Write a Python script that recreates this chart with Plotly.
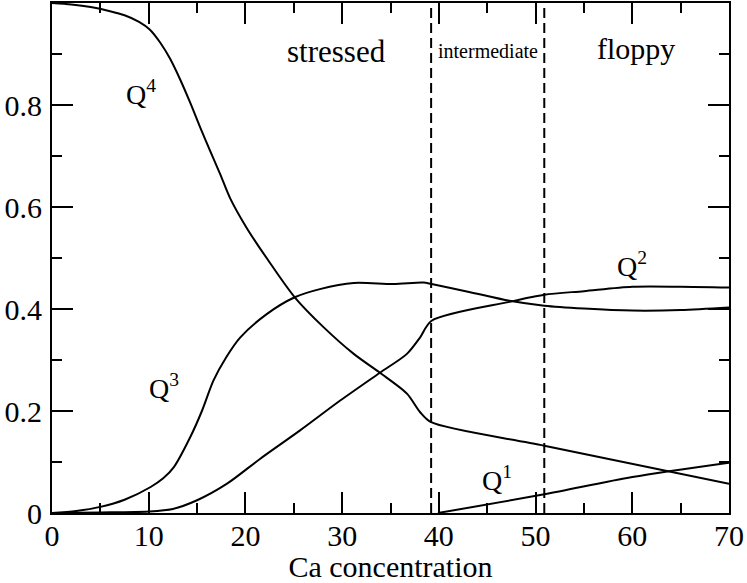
import plotly.graph_objects as go

# ---- data ----
q4_x = [0, 2, 4, 6, 7.5, 9.0, 10.1, 11.2, 12.2, 13.25, 14.3, 15.3, 16.35, 17.4, 18.4,
        20.1, 22.3, 25.1, 28.1, 31.2, 33.9, 36.7, 38.05, 39.2, 50.9, 70]
q4_y = [1.0, 0.997, 0.992, 0.984, 0.976, 0.963, 0.948, 0.922, 0.891, 0.850, 0.804, 0.757,
        0.710, 0.664, 0.618, 0.560, 0.497, 0.423, 0.364, 0.312, 0.275, 0.234, 0.198,
        0.178, 0.132, 0.0575]

q3_x = [0, 2.5, 5.0, 7.5, 10.2, 11.5, 12.6, 14.3, 15.5, 16.7, 18.0, 19.45, 22.2, 25.1,
        27.7, 31.2, 35.3, 38.4, 39.25, 43.0, 47.3, 50.9, 55, 60, 65, 70]
q3_y = [0, 0.004, 0.012, 0.026, 0.051, 0.068, 0.090, 0.149, 0.200, 0.260, 0.305, 0.344,
        0.390, 0.423, 0.439, 0.451, 0.449, 0.452, 0.449, 0.434, 0.416, 0.4065, 0.401,
        0.397, 0.398, 0.403]

q2_x = [0, 5, 10, 12.5, 15.0, 18.1, 21.5, 25.65, 29.8, 33.9, 36.7, 38.05, 39.25, 47.3,
        50.9, 55, 60, 65, 70]
q2_y = [0, 0.001, 0.003, 0.008, 0.025, 0.0575, 0.106, 0.162, 0.2205, 0.275, 0.312, 0.344,
        0.377, 0.414, 0.428, 0.435, 0.4436, 0.4436, 0.442]

q1_x = [39.9, 50.9, 60, 70]
q1_y = [0, 0.0366, 0.0705, 0.0986]

boundaries = [39.2, 50.9]

curve_labels = [('Q<sup>4</sup>', 7.4, 0.825), ('Q<sup>3</sup>', 9.8, 0.248),
                ('Q<sup>2</sup>', 58.2, 0.488), ('Q<sup>1</sup>', 44.3, 0.068)]
region_labels = [('stressed', 29.4, 0.905, 31), ('intermediate', 45.1, 0.905, 20),
                 ('floppy', 60.4, 0.91, 30)]

FONT = 'Liberation Serif'

fig = go.Figure()

for xs, ys in [(q4_x, q4_y), (q3_x, q3_y), (q2_x, q2_y), (q1_x, q1_y)]:
    fig.add_trace(go.Scatter(x=xs, y=ys, mode='lines', showlegend=False, hoverinfo='skip',
                             line=dict(color='black', width=2, shape='spline', smoothing=0.8)))

for xb in boundaries:
    fig.add_shape(type='line', x0=xb, x1=xb, y0=0, y1=1, xref='x', yref='y',
                  line=dict(color='black', width=2, dash='10px,5px'))

for txt, x, y in curve_labels:
    fig.add_annotation(x=x, y=y, text=txt, showarrow=False, xanchor='left',
                       yanchor='middle', font=dict(family=FONT, size=28, color='black'))

for txt, x, y, s in region_labels:
    fig.add_annotation(x=x, y=y, text=txt, showarrow=False, xanchor='center',
                       yanchor='middle', font=dict(family=FONT, size=s, color='black'))

axis_common = dict(showline=True, linecolor='black', linewidth=2, mirror='allticks',
                   ticks='inside', ticklen=21, tickwidth=2, tickcolor='black',
                   showgrid=False, zeroline=False, automargin=False,
                   tickfont=dict(family=FONT, size=30, color='black'))

fig.update_xaxes(range=[0, 70], dtick=10, tick0=0, ticklabelstandoff=-5,
                 minor=dict(dtick=5, ticklen=10, tickwidth=2, tickcolor='black', ticks='inside'),
                 title=dict(text='Ca concentration', font=dict(family=FONT, size=30, color='black'),
                            standoff=0),
                 **axis_common)
fig.update_yaxes(range=[0, 1.0], tickvals=[0, 0.2, 0.4, 0.6, 0.8],
                 ticktext=['0', '0.2', '0.4', '0.6', '0.8'], ticklabelstandoff=2,
                 minor=dict(tickvals=[0.1, 0.3, 0.5, 0.7, 0.9], ticklen=10, tickwidth=2,
                            tickcolor='black', ticks='inside'),
                 **axis_common)

fig.update_layout(width=747, height=583, paper_bgcolor='white', plot_bgcolor='white',
                  margin=dict(l=52, r=18, t=3, b=70),
                  font=dict(family=FONT, color='black'))

# page body has a default 8px margin; drop it so the figure sits at the window corner
fig.write_html('out.html', config={'displayModeBar': False},
               post_script="document.body.style.margin='0';")
